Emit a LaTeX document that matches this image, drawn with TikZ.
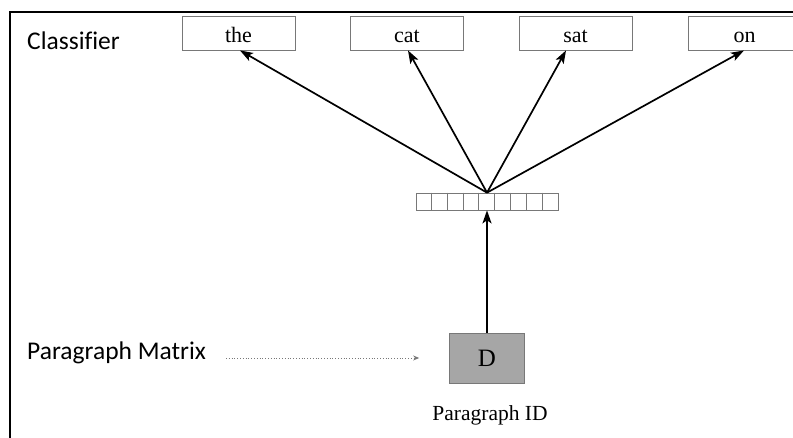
\documentclass[tikz,border=0pt]{standalone}
\usepackage{fontspec}
\setmainfont{Liberation Serif}
\newfontfamily\labelfont[Ligatures=NoCommon]{Carlito}
\usetikzlibrary{arrows.meta}
\definecolor{boxgray}{RGB}{120,120,120}
\definecolor{dfill}{RGB}{166,166,166}
\begin{document}
\begin{tikzpicture}[x=1pt,y=-1pt,
  wordbox/.style={draw=boxgray,line width=0.9pt,minimum width=113pt,minimum height=34pt,
    inner sep=0pt,text height=20pt,text depth=0pt,font=\fontsize{22}{24}\selectfont},
  sidelabel/.style={anchor=base west,inner sep=0pt,font=\labelfont\fontsize{25.5}{27}\selectfont},
  arr/.style={line width=1.7pt,-{Stealth[length=13pt,width=9pt,inset=3pt]}},
  cell/.style={draw=boxgray,line width=0.7pt}]
\useasboundingbox (0,0) rectangle (793,438);
\clip (0,0) rectangle (793,438);
\fill[white] (0,0) rectangle (793,438);
% frame
\draw[line width=2pt] (10,438) -- (10,12) -- (793,12);
% side labels
\node[sidelabel] (cls) at (27,50) {Classifier};
\node[sidelabel] (pm) at (27,360) {Paragraph Matrix};
% output words
\node[wordbox] (w1) at (238.5,33) {the};
\node[wordbox] (w2) at (407,33) {cat};
\node[wordbox] (w3) at (575.5,33) {sat};
\node[wordbox] (w4) at (744.5,33) {on};
% paragraph vector
\node[draw=boxgray,line width=0.7pt,minimum width=142pt,minimum height=17pt,inner sep=0pt] (vec) at (487,201.5) {};
\foreach \i in {1,...,8}{
  \draw[cell] ([xshift=\i*142/9 pt]vec.north west) -- ([xshift=\i*142/9 pt]vec.south west);
}
% paragraph id
\node[draw=boxgray,fill=dfill,line width=0.7pt,minimum width=75pt,minimum height=50pt,inner sep=0pt,
  font=\fontsize{25}{27}\selectfont] (D) at (487,358) {D};
\node[inner sep=0pt,font=\fontsize{21.5}{24}\selectfont] (pid) at (490,415) {Paragraph ID};
% connections
\draw[arr] (D) -- (vec);
\coordinate (apex) at (vec.north);
\draw[arr] (apex) -- ([xshift=1.5pt]w1.south);
\draw[arr] (apex) -- ([xshift=1pt]w2.south);
\draw[arr] (apex) -- ([xshift=-9.5pt]w3.south);
\draw[arr] (apex) -- ([xshift=-0.5pt]w4.south);
\draw[boxgray,line width=0.8pt,dotted,shorten <=20pt,shorten >=30pt,-{Stealth[length=6pt,width=5pt]}]
  (pm.east |- D.center) -- (D.west);
\end{tikzpicture}
\end{document}
